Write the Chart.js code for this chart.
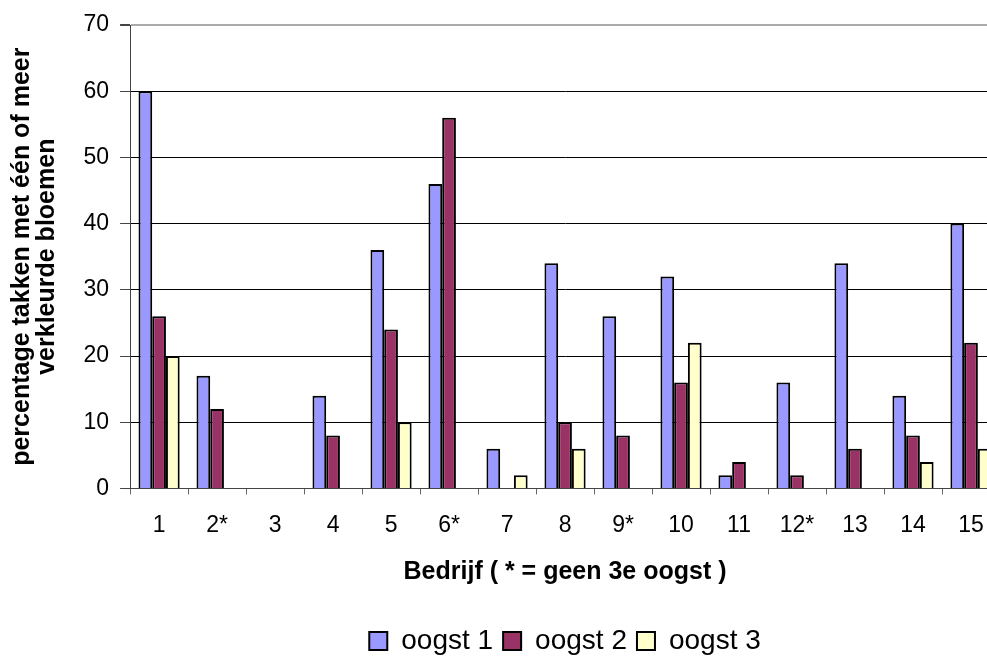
<!DOCTYPE html>
<html>
<head>
<meta charset="utf-8">
<script src="https://cdn.jsdelivr.net/npm/chart.js@4/dist/chart.umd.min.js"></script>
<style>
  html, body { margin: 0; padding: 0; background: #fff; overflow: hidden; }
  #wrap { width: 1010px; height: 665px; }
</style>
</head>
<body>
<div id="wrap">
  <canvas id="bar-chart" width="1010" height="665"></canvas>
</div>
<script>
// Bedrijven (categories)
const bedrijven = ['1', '2*', '3', '4', '5', '6*', '7', '8', '9*', '10', '11', '12*', '13', '14', '15'];

// percentage takken met verkleurde bloemen, per oogst
const oogst1 = [60, 17, 0, 14, 36, 46, 6, 34, 26, 32, 2, 16, 34, 14, 40];
const oogst2 = [26, 12, 0, 8, 24, 56, 0, 10, 8, 16, 4, 2, 6, 8, 22];
// null = geen 3e oogst
const oogst3 = [20, null, 0, 0, 10, null, 2, 6, null, 22, 0, null, 0, 4, 6];

const yTicks = [0, 10, 20, 30, 40, 50, 60, 70];

Chart.defaults.font.family = '"Liberation Sans", Arial, sans-serif';
Chart.defaults.color = '#000';

// centre the legend under the plot area instead of the whole canvas
const legendUnderPlot = {
    id: 'legendUnderPlot',
    afterLayout(chart) {
        if (chart.legend) {
            chart.legend.left = chart.chartArea.left;
            chart.legend.right = chart.chartArea.right;
        }
    }
};

const ctx = document.getElementById('bar-chart').getContext('2d');
const barChart = new Chart(ctx, {
    type: 'bar',
    data: {
        labels: bedrijven,
        datasets: [{
            label: 'oogst 1',
            data: oogst1,
            backgroundColor: '#9999FF',
            borderColor: '#000',
            borderWidth: 2
        }, {
            label: 'oogst 2',
            data: oogst2,
            backgroundColor: '#993366',
            borderColor: '#000',
            borderWidth: 2
        }, {
            label: 'oogst 3',
            data: oogst3,
            backgroundColor: '#FFFFCC',
            borderColor: '#000',
            borderWidth: 2
        }]
    },
    options: {
        responsive: false,
        animation: false,
        categoryPercentage: 0.71,
        barPercentage: 1.0,
        layout: {
            padding: { top: 25, right: 10, bottom: 0, left: 0 }
        },
        plugins: {
            tooltip: { enabled: false },
            legend: {
                position: 'bottom',
                labels: {
                    font: { size: 28 },
                    boxWidth: 18,
                    boxHeight: 18,
                    padding: 10
                }
            }
        },
        scales: {
            x: {
                offset: true,
                grid: {
                    display: true,
                    offset: true,
                    drawOnChartArea: false,
                    drawTicks: true,
                    tickLength: 6,
                    color: '#666'
                },
                border: { display: true, color: '#444', width: 1 },
                ticks: {
                    font: { size: 23 },
                    padding: 17,
                    maxRotation: 0,
                    autoSkip: false
                },
                title: {
                    display: true,
                    text: 'Bedrijf ( * = geen 3e oogst )',
                    font: { size: 25, weight: 'bold', lineHeight: 1.0 },
                    padding: { top: 4, bottom: 32 }
                }
            },
            y: {
                min: 0,
                max: 70,
                afterBuildTicks: (axis) => {
                    axis.ticks = yTicks.map(v => ({ value: v }));
                },
                grid: {
                    color: (c) => (c.tick && c.tick.value === 70 ? '#aaa' : '#000'),
                    lineWidth: (c) => (c.tick && c.tick.value === 70 ? 2 : 1),
                    tickLength: 10,
                    tickColor: '#444'
                },
                border: { display: true, color: '#444', width: 1 },
                ticks: {
                    font: { size: 23 },
                    padding: 11
                },
                title: {
                    display: true,
                    text: ['percentage takken met één of meer', 'verkleurde bloemen'],
                    font: { size: 25, weight: 'bold', lineHeight: 1.0 },
                    padding: { top: 9.5, bottom: 13 }
                }
            }
        }
    },
    plugins: [legendUnderPlot]
});
</script>
</body>
</html>
